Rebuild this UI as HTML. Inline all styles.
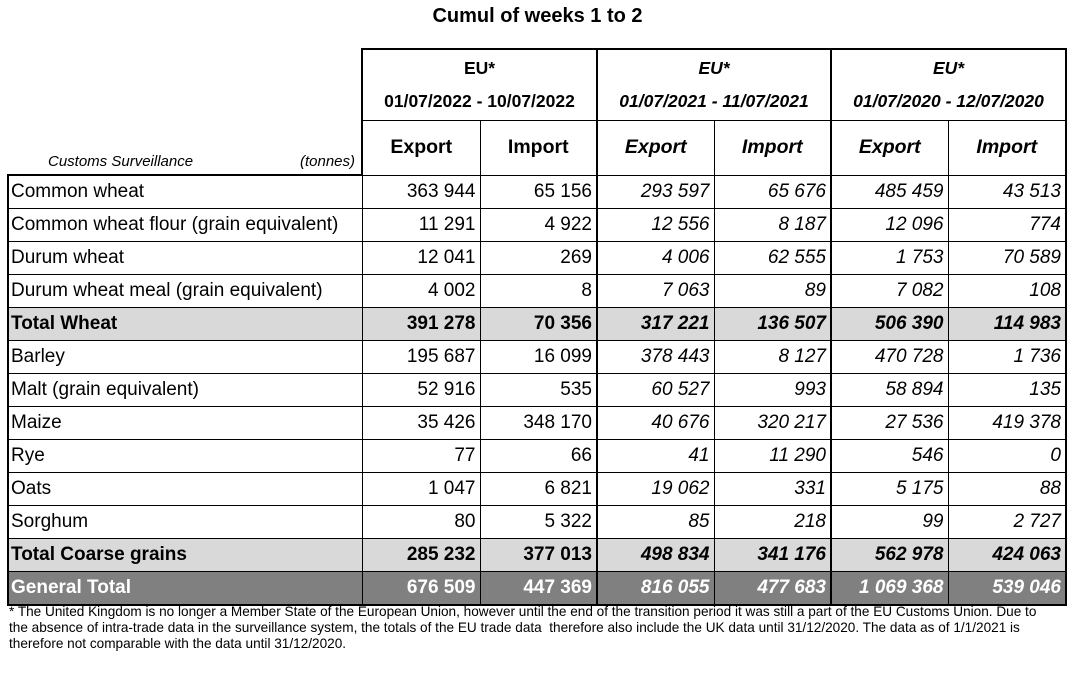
<!DOCTYPE html>
<html><head><style>
body{margin:0;width:1070px;height:682px;background:#fff;font-family:"Liberation Sans",Arial,sans-serif;position:relative;overflow:hidden}
.title{position:absolute;top:5px;left:0;width:1075px;text-align:center;font-weight:bold;font-size:20px}
table{position:absolute;left:7px;top:48px;border-collapse:collapse;table-layout:fixed}
td{padding:0 4px;font-size:19px;height:32px;border:1px solid #000;white-space:nowrap;text-align:right}
td.l{text-align:left;border-left:2px solid #000;padding-left:2px}
.hd td{border:0}
td.gr{border-right:2px solid #000}
.t td{background:#d9d9d9;font-weight:bold}
.gt td{background:#808080;color:#fff;font-weight:bold;border-bottom:2px solid #000}
.i{font-style:italic}
.foot{position:absolute;left:9px;top:604px;font-size:13.6px;line-height:16px;width:1060px}
</style></head><body>
<div class="title">Cumul of weeks 1 to 2</div>
<table>
<colgroup><col style="width:354px"><col style="width:118px"><col style="width:117px"><col style="width:117px"><col style="width:117px"><col style="width:117px"><col style="width:118px"></colgroup>
<tr class="hd" style="height:71px">
<td style="border:0"></td>
<td colspan="2" style="border:2px solid #000;border-bottom:1px solid #000;text-align:center;font-weight:bold;font-size:17.5px;line-height:33px;padding-top:0">EU*<br>01/07/2022 - 10/07/2022</td>
<td colspan="2" style="border:2px solid #000;border-bottom:1px solid #000;text-align:center;font-weight:bold;font-style:italic;font-size:17.5px;line-height:33px;padding-top:0">EU*<br>01/07/2021 - 11/07/2021</td>
<td colspan="2" style="border:2px solid #000;border-bottom:1px solid #000;text-align:center;font-weight:bold;font-style:italic;font-size:17.5px;line-height:33px;padding-top:0">EU*<br>01/07/2020 - 12/07/2020</td>
</tr>
<tr class="hd" style="height:55px">
<td style="border:0;border-bottom:2px solid #000;font-style:italic;font-size:15px;vertical-align:bottom;padding:0 6px 4px 40px;text-align:left"><span>Customs Surveillance</span><span style="float:right">(tonnes)</span></td>
<td style="border-left:2px solid #000;border-right:1px solid #000;text-align:center;font-weight:bold;font-size:19.5px">Export</td>
<td style="border-right:2px solid #000;text-align:center;font-weight:bold;font-size:19.5px">Import</td>
<td style="border-right:1px solid #000;text-align:center;font-weight:bold;font-style:italic;font-size:19.5px">Export</td>
<td style="border-right:2px solid #000;text-align:center;font-weight:bold;font-style:italic;font-size:19.5px">Import</td>
<td style="border-right:1px solid #000;text-align:center;font-weight:bold;font-style:italic;font-size:19.5px">Export</td>
<td style="border-right:2px solid #000;text-align:center;font-weight:bold;font-style:italic;font-size:19.5px">Import</td>
</tr>
<tr><td class="l">Common wheat</td><td>363 944</td><td class="gr">65 156</td><td class="i">293 597</td><td class="i gr">65 676</td><td class="i">485 459</td><td class="i gr">43 513</td></tr>
<tr><td class="l">Common wheat flour (grain equivalent)</td><td>11 291</td><td class="gr">4 922</td><td class="i">12 556</td><td class="i gr">8 187</td><td class="i">12 096</td><td class="i gr">774</td></tr>
<tr><td class="l">Durum wheat</td><td>12 041</td><td class="gr">269</td><td class="i">4 006</td><td class="i gr">62 555</td><td class="i">1 753</td><td class="i gr">70 589</td></tr>
<tr><td class="l">Durum wheat meal (grain equivalent)</td><td>4 002</td><td class="gr">8</td><td class="i">7 063</td><td class="i gr">89</td><td class="i">7 082</td><td class="i gr">108</td></tr>
<tr class="t"><td class="l">Total Wheat</td><td>391 278</td><td class="gr">70 356</td><td class="i">317 221</td><td class="i gr">136 507</td><td class="i">506 390</td><td class="i gr">114 983</td></tr>
<tr><td class="l">Barley</td><td>195 687</td><td class="gr">16 099</td><td class="i">378 443</td><td class="i gr">8 127</td><td class="i">470 728</td><td class="i gr">1 736</td></tr>
<tr><td class="l">Malt (grain equivalent)</td><td>52 916</td><td class="gr">535</td><td class="i">60 527</td><td class="i gr">993</td><td class="i">58 894</td><td class="i gr">135</td></tr>
<tr><td class="l">Maize</td><td>35 426</td><td class="gr">348 170</td><td class="i">40 676</td><td class="i gr">320 217</td><td class="i">27 536</td><td class="i gr">419 378</td></tr>
<tr><td class="l">Rye</td><td>77</td><td class="gr">66</td><td class="i">41</td><td class="i gr">11 290</td><td class="i">546</td><td class="i gr">0</td></tr>
<tr><td class="l">Oats</td><td>1 047</td><td class="gr">6 821</td><td class="i">19 062</td><td class="i gr">331</td><td class="i">5 175</td><td class="i gr">88</td></tr>
<tr><td class="l">Sorghum</td><td>80</td><td class="gr">5 322</td><td class="i">85</td><td class="i gr">218</td><td class="i">99</td><td class="i gr">2 727</td></tr>
<tr class="t"><td class="l">Total Coarse grains</td><td>285 232</td><td class="gr">377 013</td><td class="i">498 834</td><td class="i gr">341 176</td><td class="i">562 978</td><td class="i gr">424 063</td></tr>
<tr class="gt"><td class="l">General Total</td><td>676 509</td><td class="gr">447 369</td><td class="i">816 055</td><td class="i gr">477 683</td><td class="i">1 069 368</td><td class="i gr">539 046</td></tr>
</table>
<div class="foot">* The United Kingdom is no longer a Member State of the European Union, however until the end of the transition period it was still a part of the EU Customs Union. Due to<br>the absence of intra-trade data in the surveillance system, the totals of the EU trade data &nbsp;therefore also include the UK data until 31/12/2020. The data as of 1/1/2021 is<br>therefore not comparable with the data until 31/12/2020.</div>
</body></html>
